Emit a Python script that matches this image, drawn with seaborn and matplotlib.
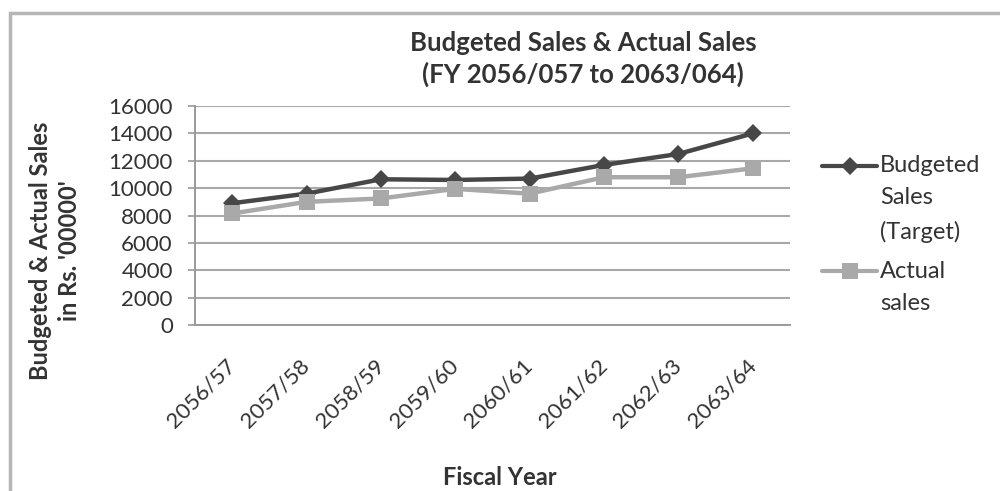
import matplotlib
matplotlib.use("Agg")
import matplotlib.pyplot as plt
import matplotlib.patches as mpatches
from matplotlib.legend_handler import HandlerLine2D
import numpy as np
import seaborn as sns
import pandas as pd

fiscal_years = ["2056/57", "2057/58", "2058/59", "2059/60",
                "2060/61", "2061/62", "2062/63", "2063/64"]
budgeted_sales = [8900, 9600, 10650, 10600, 10700, 11700, 12500, 14000]
actual_sales = [8150, 9000, 9250, 9950, 9600, 10800, 10800, 11450]
series_names = ["Budgeted\nSales\n(Target)", "Actual\nsales"]
y_ticks = [0, 2000, 4000, 6000, 8000, 10000, 12000, 14000, 16000]

sns.set_style("white")
plt.rcParams["font.family"] = ["Lato", "DejaVu Sans"]

TEXT = "#333333"
LEG_FS = 17
LEG_LS = 1.67

df = pd.DataFrame({
    "year": fiscal_years * 2,
    "value": budgeted_sales + actual_sales,
    "series": [series_names[0]] * len(fiscal_years) + [series_names[1]] * len(fiscal_years),
})

fig = plt.figure(figsize=(10, 4.91), dpi=100)
ax = fig.add_axes([0.195, 0.338, 0.595, 0.446])

palette = {series_names[0]: "#474747", series_names[1]: "#a9a9a9"}
markers = {series_names[0]: "D", series_names[1]: "s"}

sns.lineplot(data=df, x="year", y="value", hue="series", style="series",
             palette=palette, markers=markers, dashes=False, sort=False,
             linewidth=3.2, markersize=10, markeredgewidth=0, ax=ax)
for line in ax.get_lines():
    line.set_markersize(9.5 if line.get_marker() == "D" else 11)

ax.set_xlim(-0.5, len(fiscal_years) - 0.5)
ax.set_ylim(0, 16000)
ax.set_yticks(y_ticks)
ax.set_yticklabels([str(v) for v in y_ticks], fontsize=16, color=TEXT)
ax.set_xticks(range(len(fiscal_years)))
ax.set_xticklabels(fiscal_years, rotation=45, ha="right", va="center",
                   rotation_mode="anchor", fontsize=16, color=TEXT)
ax.tick_params(axis="y", length=5, width=1.2, color="#9a9a9a", pad=11, left=True)
ax.tick_params(axis="x", length=0, pad=27)
ax.yaxis.grid(True, color="#a8a8a8", linewidth=1.5)
ax.set_axisbelow(True)
for side in ("top", "right"):
    ax.spines[side].set_visible(False)
for side in ("left", "bottom"):
    ax.spines[side].set_color("#9a9a9a")
    ax.spines[side].set_linewidth(1.4)

ax.set_xlabel("Fiscal Year", fontsize=17, fontweight="bold", color=TEXT)
ax.xaxis.set_label_coords((500 - 195) / 595, (325 - 466) / 219)
ax.set_ylabel("Budgeted & Actual Sales\nin Rs. '00000'", fontsize=17,
              fontweight="bold", color=TEXT, linespacing=1.3)
ax.yaxis.set_label_coords((81 - 195) / 595, (325 - 251) / 219)


class FirstLineHandler(HandlerLine2D):
    """Line handle aligned with the first line of a multi-line label."""

    def __init__(self, n_lines, **kw):
        super().__init__(**kw)
        self.shift = (n_lines - 1) / 2 * LEG_FS * LEG_LS * 0.85

    def create_artists(self, legend, orig_handle, xdescent, ydescent,
                       width, height, fontsize, trans):
        artists = super().create_artists(legend, orig_handle, xdescent, ydescent,
                                         width, height, fontsize, trans)
        for a in artists:
            a.set_ydata(np.asarray(a.get_ydata(), dtype=float) + self.shift)
        return artists


handles, labels = ax.get_legend_handles_labels()
handler_map = {h: FirstLineHandler(lab.count("\n") + 1) for h, lab in zip(handles, labels)}
leg = ax.legend(handles, labels, handler_map=handler_map,
                loc="upper left", bbox_to_anchor=((822 - 195) / 595, (325 - 155) / 219),
                frameon=False, borderpad=0, borderaxespad=0,
                fontsize=LEG_FS, handlelength=2.35, labelspacing=0.76,
                handletextpad=0.1, labelcolor=TEXT)
for t in leg.get_texts():
    t.set_linespacing(LEG_LS)
for h in leg.legend_handles:
    h.set_linewidth(3)

fig.text(0.583, 1 - 59 / 491, "Budgeted Sales & Actual Sales\n(FY 2056/057 to 2063/064)",
         ha="center", va="center", fontsize=18.5, fontweight="bold", color=TEXT,
         linespacing=1.35)

# chart frame
fig.patches.append(mpatches.Rectangle((0.01, -0.1), 1.2, 0.1 + 1 - 13 / 491,
                                      transform=fig.transFigure, fill=False,
                                      edgecolor="#b5b5b5", linewidth=2.5))

fig.savefig("out.png", dpi=100, facecolor="white")
